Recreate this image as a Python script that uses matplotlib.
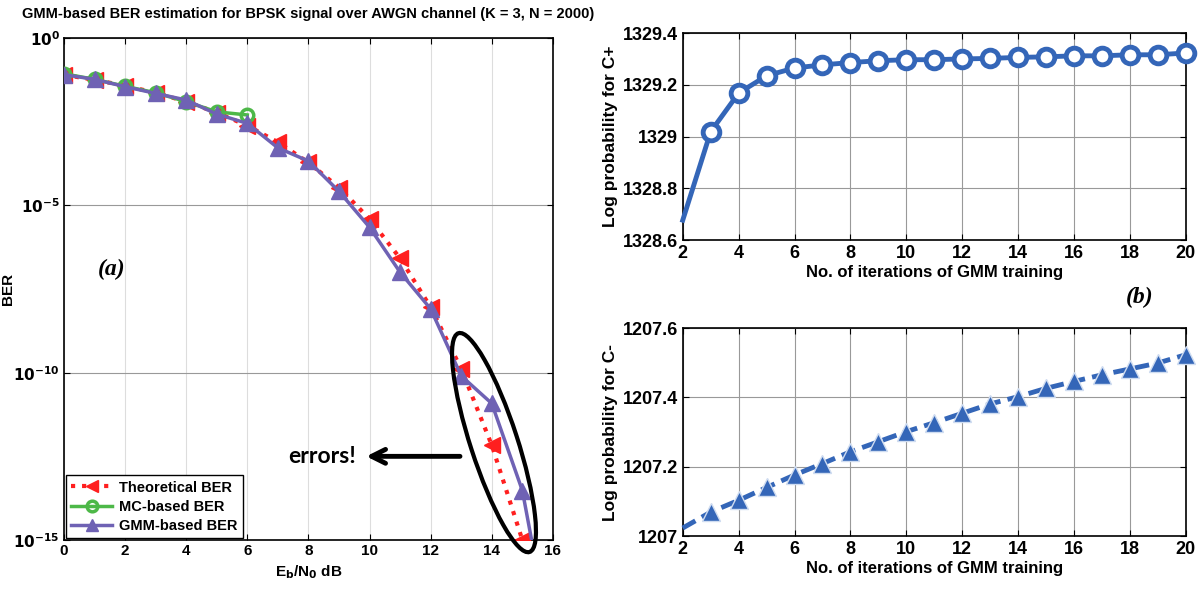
import matplotlib
matplotlib.use("Agg")
import matplotlib.pyplot as plt
from matplotlib.patches import Ellipse

plt.rcParams['font.family'] = ['Liberation Sans', 'DejaVu Sans']
plt.rcParams['font.weight'] = 'bold'
plt.rcParams['axes.labelweight'] = 'bold'
plt.rcParams['mathtext.default'] = 'bf'

# ---- panel (a) data ----
ebn0 = [0, 1, 2, 3, 4, 5, 6, 7, 8, 9, 10, 11, 12, 13, 14, 15]
ber_theory = [7.9e-2, 5.6e-2, 3.75e-2, 2.3e-2, 1.25e-2, 5.9e-3, 2.4e-3, 7.7e-4,
              1.9e-4, 3.4e-5, 3.9e-6, 2.6e-7, 9.0e-9, 1.3e-10, 6.8e-13, 1.0e-15]
ebn0_mc = [0, 1, 2, 3, 4, 5, 6]
ber_mc = [8.5e-2, 5.8e-2, 3.6e-2, 2.3e-2, 1.25e-2, 6.2e-3, 5.0e-3]
ebn0_gmm = [0, 1, 2, 3, 4, 5, 6, 7, 8, 9, 10, 11, 12, 13, 14, 15, 16]
ber_gmm = [8.0e-2, 5.8e-2, 3.5e-2, 2.2e-2, 1.4e-2, 5.3e-3, 2.8e-3, 5.2e-4,
           2.1e-4, 2.6e-5, 2.2e-6, 1.0e-7, 8.0e-9, 8.0e-11, 1.2e-11, 3.0e-14, 4.0e-19]
ber_ticks = [1e-15, 1e-10, 1e-5, 1]
ber_ticklabels = [r'$10^{-15}$', r'$10^{-10}$', r'$10^{-5}$', r'$10^{0}$']

# ---- panel (b) data ----
iters = list(range(2, 21))
logp_cplus = [1328.677, 1329.019, 1329.168, 1329.235, 1329.265, 1329.277, 1329.286,
              1329.293, 1329.297, 1329.297, 1329.300, 1329.302, 1329.306, 1329.308,
              1329.312, 1329.312, 1329.316, 1329.316, 1329.323]
logp_cminus = [1207.023, 1207.069, 1207.103, 1207.140, 1207.176, 1207.209, 1207.243,
               1207.272, 1207.301, 1207.327, 1207.354, 1207.381, 1207.402, 1207.426,
               1207.446, 1207.465, 1207.482, 1207.499, 1207.523]

red = '#FF1F1F'
green = '#4DB848'
purple = '#6F62B4'
blue = '#3466B8'

fig = plt.figure(figsize=(12.02, 5.9), dpi=100)

# ================= (a) =================
ax = fig.add_axes([0.0532, 0.0847, 0.4068, 0.851])
ax.semilogy(ebn0, ber_theory, color=red, ls=':', lw=3, marker='<', ms=11,
            mfc=red, mec=red, label='Theoretical BER', zorder=3)
ax.semilogy(ebn0_mc, ber_mc, color=green, lw=2.5, marker='o', ms=9,
            mfc='none', mec=green, mew=2.5, label='MC-based BER', zorder=3)
ax.semilogy(ebn0_gmm, ber_gmm, color=purple, lw=2.5, marker='^', ms=11,
            mfc=purple, mec=purple, label='GMM-based BER', zorder=4)
ax.set_xlim(0, 16)
ax.set_ylim(1e-15, 1)
ax.set_xticks(range(0, 17, 2))
ax.set_yticks(ber_ticks)
ax.set_yticklabels(ber_ticklabels)
ax.minorticks_off()
ax.tick_params(direction='in', top=True, right=True, labelsize=11, length=4, pad=3)
ax.grid(axis='x', color='#dddddd', lw=0.8)
ax.grid(axis='y', color='#999999', lw=0.8)
for s in ax.spines.values():
    s.set_linewidth(1.2)
ax.set_title('GMM-based BER estimation for BPSK signal over AWGN channel (K = 3, N = 2000)',
             fontsize=10.5, fontweight='bold', pad=14)
ax.set_xlabel(r'E$_\mathrm{b}$/N$_\mathrm{0}$ dB', fontsize=11)
ax.set_ylabel('BER', fontsize=11)
ax.yaxis.set_label_coords(-0.1, 0.5)

leg = ax.legend(loc='lower left', fontsize=10.5, handlelength=2.8, fancybox=False,
                edgecolor='black', framealpha=1, borderaxespad=0.15, markerscale=0.85,
                borderpad=0.35, labelspacing=0.35, handletextpad=0.5)
leg.get_frame().set_linewidth(1.0)

ax.text(1.55, 10**-6.93, '(a)', fontsize=17, style='italic', fontweight='bold',
        family='Liberation Serif', ha='center', va='center')

# "errors!" callout
ell = Ellipse((4.94, 1.474), 2.3, 0.47, angle=108.0, transform=fig.dpi_scale_trans,
              fill=False, ec='black', lw=3, clip_on=False, zorder=6)
fig.add_artist(ell)
ax.annotate('', xy=(9.8, 10**-12.5), xytext=(13.05, 10**-12.5),
            arrowprops=dict(arrowstyle='->', color='black', lw=3.5, mutation_scale=25))
ax.text(9.55, 10**-12.5, 'errors!', fontsize=16.5, fontweight='bold', family='Lato',
        ha='right', va='center')

# ================= (b) top =================
ax1 = fig.add_axes([0.568, 0.593, 0.4185, 0.351])
ax1.plot(iters, logp_cplus, color=blue, lw=3.5, marker='o', ms=12, mfc='white',
         mec=blue, mew=3.5, markevery=range(1, len(iters)), clip_on=False, zorder=3)
ax1.set_xlim(2, 20)
ax1.set_ylim(1328.6, 1329.4)
ax1.set_yticks([1328.6, 1328.8, 1329.0, 1329.2, 1329.4])
ax1.set_yticklabels(['1328.6', '1328.8', '1329', '1329.2', '1329.4'])
ax1.set_ylabel('Log probability for C+', fontsize=12.5)

# ================= (b) bottom =================
ax2 = fig.add_axes([0.568, 0.0915, 0.4185, 0.3525])
ax2.plot(iters, logp_cminus, color=blue, lw=3.5, ls=(0, (3, 1.5)), marker='^', ms=13,
         mfc=blue, mec='#cfdcf0', mew=1.0, markevery=range(1, len(iters)),
         clip_on=False, zorder=3)
ax2.set_xlim(2, 20)
ax2.set_ylim(1207.0, 1207.6)
ax2.set_yticks([1207.0, 1207.2, 1207.4, 1207.6])
ax2.set_yticklabels(['1207', '1207.2', '1207.4', '1207.6'])
ax2.set_ylabel('Log probability for C-', fontsize=12.5)

for a in (ax1, ax2):
    a.set_xticks(range(2, 21, 2))
    a.set_xlabel('No. of iterations of GMM training', fontsize=12, labelpad=2)
    a.tick_params(direction='in', top=True, right=True, labelsize=13, length=4)
    a.grid(color='#999999', lw=0.8)
    a.yaxis.set_label_coords(-0.128, 0.5)
    for s in a.spines.values():
        s.set_linewidth(1.2)

fig.text(0.948, 0.495, '(b)', fontsize=17, style='italic', fontweight='bold',
         family='Liberation Serif', ha='center', va='center')

fig.savefig('out.png', dpi=100)
